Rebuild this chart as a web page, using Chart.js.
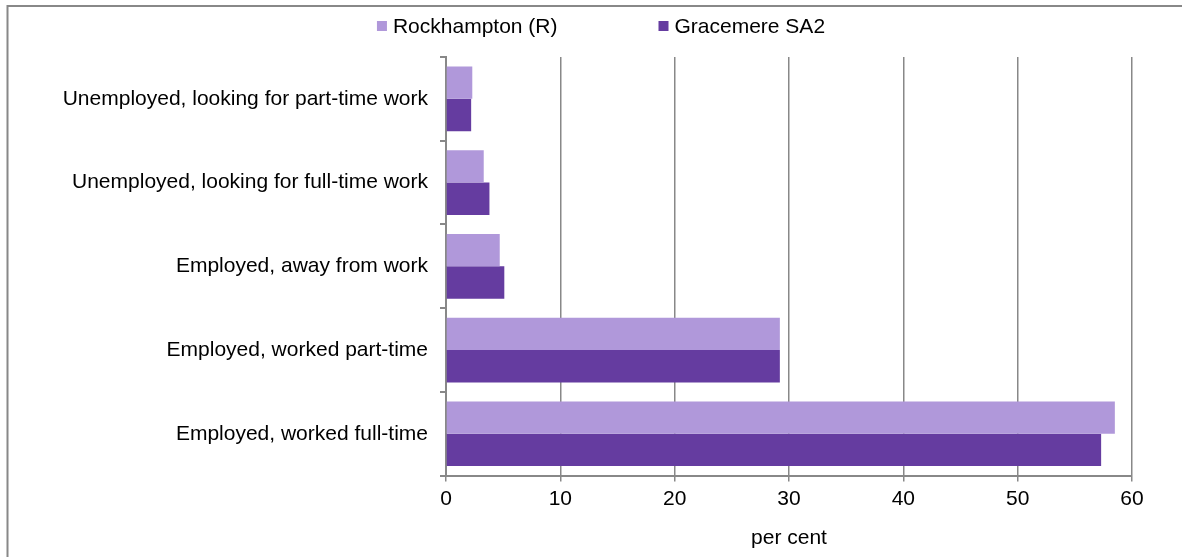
<!DOCTYPE html>
<html>
<head>
<meta charset="utf-8">
<script src="https://cdn.jsdelivr.net/npm/chart.js@4/dist/chart.umd.min.js"></script>
<style>
  html, body { margin: 0; padding: 0; background: #fff; }
  #wrap { position: relative; width: 1182px; height: 557px; }
</style>
</head>
<body>
<div id="wrap"><canvas id="statusChart" width="1182" height="557"></canvas></div>
<script>
// Labour force status, per cent
const categories = [
  'Unemployed, looking for part-time work',
  'Unemployed, looking for full-time work',
  'Employed, away from work',
  'Employed, worked part-time',
  'Employed, worked full-time'
];
const rockhampton = [2.3, 3.3, 4.7, 29.2, 58.5];
const gracemere = [2.2, 3.8, 5.1, 29.2, 57.3];
const xTicks = [0, 10, 20, 30, 40, 50, 60];

const FONT = '"Liberation Sans", Arial, sans-serif';
const GREY = '#888888';

// outer frame (left and top edges only show in the picture)
const framePlugin = {
  id: 'frame',
  beforeDraw(chart) {
    const c = chart.ctx;
    c.save();
    c.fillStyle = '#fff';
    c.fillRect(0, 0, chart.width, chart.height);
    c.strokeStyle = GREY;
    c.lineWidth = 2;
    c.beginPath();
    c.moveTo(7.5, chart.height);
    c.lineTo(7.5, 6);
    c.lineTo(chart.width, 6);
    c.stroke();
    c.restore();
  }
};

// small square legend, drawn like the office chart
const legendPlugin = {
  id: 'squareLegend',
  afterDraw(chart) {
    const c = chart.ctx;
    const box = 10, gap = 6, between = 101;
    c.save();
    c.font = '21px ' + FONT;
    c.textBaseline = 'middle';
    const items = chart.data.datasets.map(ds => ({
      text: ds.label, color: ds.backgroundColor, w: c.measureText(ds.label).width
    }));
    let total = items.reduce((s, it) => s + box + gap + it.w, 0) + between * (items.length - 1);
    let x = 601 - total / 2;
    const y = 26;
    items.forEach(it => {
      c.fillStyle = it.color;
      c.fillRect(x, y - box / 2, box, box);
      c.fillStyle = '#000';
      c.fillText(it.text, x + box + gap, y + 1);
      x += box + gap + it.w + between;
    });
    c.restore();
  }
};

const ctx = document.getElementById('statusChart').getContext('2d');
const statusChart = new Chart(ctx, {
  type: 'bar',
  data: {
    labels: categories,
    datasets: [
      {
        label: 'Rockhampton (R)',
        data: rockhampton,
        backgroundColor: '#B098DA',
        categoryPercentage: 0.773,
        barPercentage: 1
      },
      {
        label: 'Gracemere SA2',
        data: gracemere,
        backgroundColor: '#653CA0',
        categoryPercentage: 0.773,
        barPercentage: 1
      }
    ]
  },
  options: {
    indexAxis: 'y',
    responsive: false,
    animation: false,
    layout: { padding: { top: 57, right: 50, bottom: 6, left: 0 } },
    plugins: {
      legend: { display: false },
      tooltip: { enabled: false }
    },
    scales: {
      x: {
        min: 0,
        max: 60,
        afterBuildTicks(scale) {
          scale.ticks = xTicks.map(v => ({ value: v }));
        },
        grid: {
          color: GREY,
          lineWidth: 1.5,
          drawTicks: true,
          tickLength: 6,
          tickColor: GREY
        },
        border: { color: GREY, width: 2 },
        ticks: {
          color: '#000',
          padding: 5,
          font: { family: FONT, size: 21 }
        },
        title: {
          display: true,
          text: 'per cent',
          color: '#000',
          padding: { top: 9, bottom: 0 },
          font: { family: FONT, size: 21 }
        }
      },
      y: {
        afterFit(scale) { scale.width = 446; },
        grid: {
          drawOnChartArea: false,
          drawTicks: true,
          tickLength: 6,
          tickColor: GREY,
          lineWidth: 2,
          offset: true
        },
        border: { color: GREY, width: 2 },
        ticks: {
          color: '#000',
          padding: 12,
          font: { family: FONT, size: 21 }
        }
      }
    }
  },
  plugins: [framePlugin, legendPlugin]
});
</script>
</body>
</html>
